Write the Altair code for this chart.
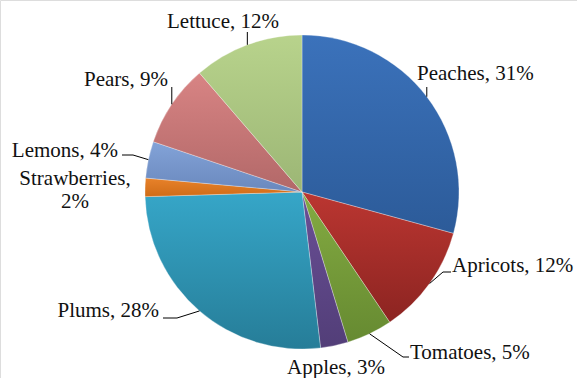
import math
import altair as alt
import pandas as pd

# ---- data ----
categories = ["Peaches", "Apricots", "Tomatoes", "Apples", "Plums",
              "Strawberries", "Lemons", "Pears", "Lettuce"]
values = [31, 12, 5, 3, 28, 2, 4, 9, 12]
label_texts = ["Peaches, 31%", "Apricots, 12%", "Tomatoes, 5%", "Apples, 3%",
               "Plums, 28%", "Strawberries,\n2%", "Lemons, 4%", "Pears, 9%",
               "Lettuce, 12%"]
colors_top = ["#3b72bb", "#bb3631", "#84ab42", "#6a4f96", "#36a6c8",
              "#e8822a", "#83a3d8", "#d88484", "#b8d38c"]
colors_bottom = ["#2c5b99", "#8c2421", "#668a31", "#523e78", "#267d98",
                 "#cf6c18", "#6a88bd", "#b26868", "#9cb675"]

# ---- layout (annotation placement) ----
CX, CY, R = 302, 192, 157
label_pos = {
    "Peaches": (417, 80, "left"),
    "Apricots": (452, 272, "left"),
    "Tomatoes": (410, 359, "left"),
    "Apples": (336, 374, "center"),
    "Plums": (159, 317, "right"),
    "Strawberries": (75, 185, "center"),
    "Lemons": (118, 157, "right"),
    "Pears": (168, 86, "right"),
    "Lettuce": (223, 28, "center"),
}
leader_elbows = {
    "Peaches": [("edge_x", 87)],
    "Apricots": [(443, 272), (451, 272)],
    "Tomatoes": [(403, 357), (409, 357)],
    "Plums": [(177, 318), (163, 318)],
    "Lemons": [(133, 155), (122, 155)],
    "Pears": [("edge_x", 87)],
    "Lettuce": [("edge_x", 32)],
}

total = sum(values)
starts, ends = [], []
cum = 0
for v in values:
    starts.append(cum)
    cum += v
    ends.append(cum)
df = pd.DataFrame({"cat": categories, "value": values, "start": starts, "end": ends})

rows_lines = []
rows_text = []
for c, s, v, t in zip(categories, starts, values, label_texts):
    mid = (s + v / 2) / total * 2 * math.pi
    ex = CX + R * math.sin(mid)
    ey = CY - R * math.cos(mid)
    if c in leader_elbows:
        pts = [(ex, ey)]
        for px, py in leader_elbows[c]:
            pts.append((ex if px == "edge_x" else px, py))
        for i, (px, py) in enumerate(pts):
            rows_lines.append({"cat": c, "seq": i, "x": px, "y": py})
    lx, ly, al = label_pos[c]
    rows_text.append({"cat": c, "text": t, "x": lx, "y": ly, "align": al})

lines_df = pd.DataFrame(rows_lines)
text_df = pd.DataFrame(rows_text)

theta_scale = alt.Scale(domain=[0, total], range=[0, 2 * math.pi])
slices = []
for c, ct, cb in zip(categories, colors_top, colors_bottom):
    grad = alt.Gradient(
        gradient="linear",
        stops=[alt.GradientStop(color=ct, offset=0), alt.GradientStop(color=cb, offset=1)],
        x1=0, x2=0, y1=0, y2=1,
    )
    slices.append(
        alt.Chart(df[df["cat"] == c]).mark_arc(
            outerRadius=R, fill=grad, stroke="#ffffff", strokeWidth=0.3
        ).encode(
            theta=alt.Theta("start:Q", scale=theta_scale, stack=None),
            theta2="end:Q",
            x=alt.value(CX),
            y=alt.value(CY),
        )
    )

leaders = alt.Chart(lines_df).mark_line(color="#000000", strokeWidth=1).encode(
    x=alt.X("x:Q", scale=None),
    y=alt.Y("y:Q", scale=None),
    detail="cat:N",
    order="seq:Q",
)

FONT = "'Liberation Serif', 'Times New Roman', Times, serif"
text_layers = []
for al in ["left", "right", "center"]:
    sub = text_df[text_df["align"] == al]
    text_layers.append(
        alt.Chart(sub).mark_text(align=al, baseline="alphabetic", font=FONT,
                                 fontSize=21, color="#111111", lineBreak="\n",
                                 lineHeight=23).encode(
            x=alt.X("x:Q", scale=None),
            y=alt.Y("y:Q", scale=None),
            text="text:N",
        )
    )

chart = alt.layer(*slices, leaders, *text_layers).properties(
    width=577, height=378, autosize=alt.AutoSizeParams(type="none"), padding=0,
).configure_view(stroke=None).configure(background="#ffffff")

chart.save("out.html", embed_options={"renderer": "svg", "actions": False})
